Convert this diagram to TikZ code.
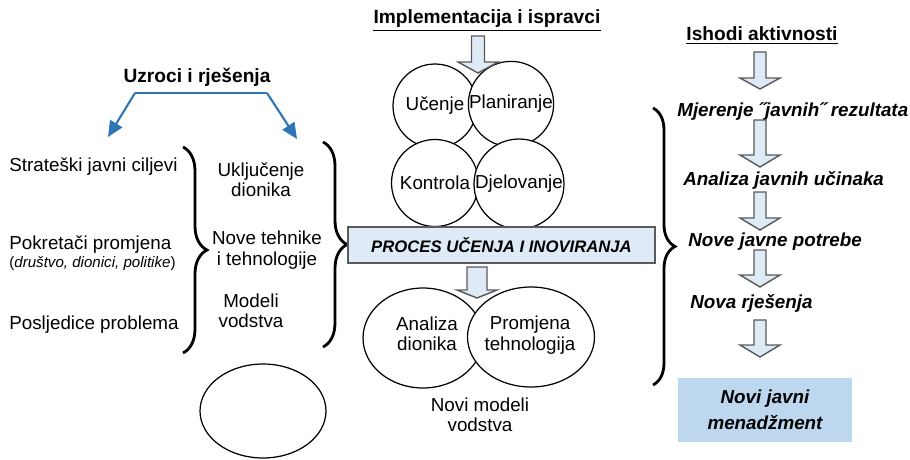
\documentclass[tikz,border=0pt]{standalone}
\usepackage{fontspec}
\setmainfont{Liberation Sans}
\usetikzlibrary{shapes.geometric, decorations.pathreplacing, arrows.meta}
\definecolor{arrowfill}{HTML}{DEEBF7}
\definecolor{arrowline}{HTML}{5A5A5A}
\definecolor{resultfill}{HTML}{BDD7EE}
\definecolor{splitblue}{HTML}{2E75B6}

\begin{document}
\begin{tikzpicture}[x=0.02cm, y=-0.02cm,
		txt/.style={font=\fontsize{10.7}{11.6}\selectfont, align=center, inner sep=0pt},
		head/.style={font=\fontsize{10.9}{13}\selectfont\bfseries, inner sep=0pt},
		outcome/.style={font=\fontsize{10.7}{12}\selectfont\bfseries\itshape, anchor=west, inner sep=0pt},
		ring/.style={draw, circle, fill=white, line width=0.7pt, inner sep=0pt, minimum size=#1, font=\fontsize{10.7}{12}\selectfont},
		oval/.style={draw, ellipse, fill=white, line width=0.7pt, inner sep=0pt, align=center, font=\fontsize{10.7}{11.6}\selectfont},
		curly/.style={decorate, decoration={brace, amplitude=#1}, line width=1.6pt},
		uline/.style={line width=0.9pt},
	]
		\useasboundingbox (0,0) rectangle (910,460);
		% causes and solutions
		\node[head] (causes) at (197,77) {Uzroci i rješenja};
		\coordinate (lsplit) at (135,93);
		\coordinate (rsplit) at (267,93);
		\coordinate (ltip) at (108,137);
		\coordinate (rtip) at (297,139);
		\draw[splitblue, line width=1.2pt] (lsplit) -- (rsplit);
		\draw[splitblue, line width=1.2pt, -{Triangle[length=9pt, width=8pt]}] (lsplit) -- (ltip);
		\draw[splitblue, line width=1.2pt, -{Triangle[length=9pt, width=8pt]}] (rsplit) -- (rtip);
		% left column
		\node[txt, anchor=west] (goals) at (9,167) {Strateški javni ciljevi};
		\node[txt, anchor=west] (drivers) at (9,245) {Pokretači promjena};
		\node[txt, anchor=west, font=\fontsize{8.6}{10}\selectfont] (driverlist) at (9,264) {(\textit{društvo, dionici, politike})};
		\node[txt, anchor=west] (effects) at (9,325) {Posljedice problema};
		\draw[curly=0.48cm] (183,147) -- (183,353);
		% solutions column
		\node[txt] (stake) at (261,180) {Uključenje\\dionika};
		\node[txt] (tech) at (267,250) {Nove tehnike\\i tehnologije};
		\node[txt] (lead) at (251,311) {Modeli\\vodstva};
		\draw[curly=0.48cm] (323,142) -- (323,347);
		\node[draw, ellipse, line width=0.7pt, minimum width=2.52cm, minimum height=1.88cm] (blank) at (263,411) {};
		% learning cycle
		\node[head] (impl) at (487,19) {Implementacija i ispravci};
		\draw[uline] ([yshift=-1.2pt]impl.south west) -- ([yshift=-1.2pt]impl.south east);
		\node[ring=1.68cm] (learn) at (435,106) {Učenje};
		\node[ring=1.7cm] (plan) at (511,104) {Planiranje};
		\node[ring=1.74cm] (control) at (435,183) {Kontrola};
		\node[ring=1.8cm] (act) at (519,184) {Djelovanje};
		\node[draw=arrowline, fill=arrowfill, line width=0.9pt, minimum width=6.14cm, minimum height=0.72cm,
			font=\fontsize{9.5}{11}\selectfont\bfseries\itshape] (process) at (501.5,245) {PROCES UČENJA I INOVIRANJA};
		\node[oval, minimum width=2.4cm, minimum height=2cm] (analysis) at (423,338) {};
		\node[oval, minimum width=2.54cm, minimum height=2cm] (change) at (531,337) {};
		\node[txt] (analysistxt) at (427,334) {Analiza\\dionika};
		\node[txt] (changetxt) at (530,335) {Promjena\\tehnologija};
		\node[txt] (models) at (480,415) {Novi modeli\\vodstva};
		% outcomes
		\node[head] (outcomes) at (762,34) {Ishodi aktivnosti};
		\draw[uline] ([yshift=-1.2pt]outcomes.south west) -- ([yshift=-1.2pt]outcomes.south east);
		\node[outcome] (measure) at (677,112) {Mjerenje ˝javnih˝ rezultata};
		\node[outcome] (impact) at (683,180) {Analiza javnih učinaka};
		\node[outcome] (needs) at (688,242) {Nove javne potrebe};
		\node[outcome] (solutions) at (690,303) {Nova rješenja};
		\draw[curly=0.44cm] (653,108) -- (653,385);
		\node[fill=resultfill, minimum width=3.5cm, minimum height=1.28cm, align=center,
			font=\fontsize{10.7}{14.8}\selectfont\bfseries\itshape] (newpm) at (765,410) {Novi javni\\menadžment};
		% block arrows
		\foreach \x/\t/\h/\p/\w in {478/36/62/73/6.5, 477/267/290/298/10, 760/52/78/89/6, 760/120/155/167/6, 760/192/218/230/6, 760/250/275/287/6, 760/320/345/357/6}
		{
			\filldraw[fill=arrowfill, draw=arrowline, line width=0.8pt, line join=miter]
				(\x-\w,\t) -- (\x+\w,\t) -- (\x+\w,\h) -- (\x+20,\h) -- (\x,\p) -- (\x-20,\h) -- (\x-\w,\h) -- cycle;
		}
	\end{tikzpicture}
\end{document}
